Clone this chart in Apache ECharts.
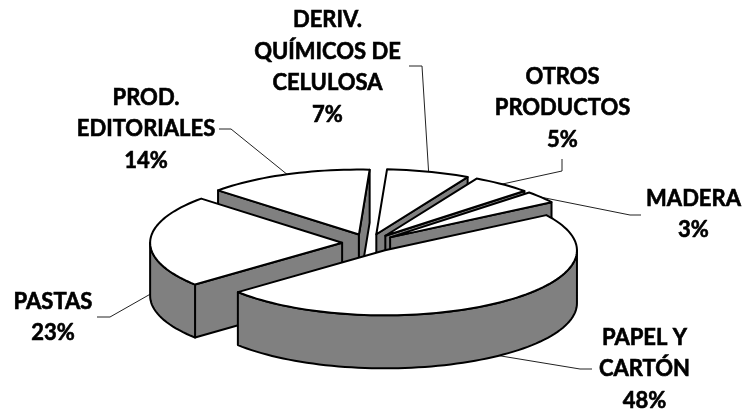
<!DOCTYPE html>
<html><head><meta charset="utf-8">
<style>html,body{margin:0;padding:0;background:#fff}#c{width:747px;height:414px}</style>
<script src="https://cdn.jsdelivr.net/npm/echarts@6/dist/echarts.min.js"></script>
</head><body><div id="c"></div>
<script>
var categories = ['PAPEL Y\nCARTÓN', 'PASTAS', 'PROD.\nEDITORIALES', 'DERIV.\nQUÍMICOS DE\nCELULOSA', 'OTROS\nPRODUCTOS', 'MADERA'];
var values = [48, 23, 14, 7, 5, 3];
var startAngle = 57.2;

// pie projection (separate from the data)
var pie = {cx: 369, cy: 243, rx: 192, ry: 65, depth: 53, explode: 0.14};
// label centres and leader elbows
var labelBoxes = [
  {x: 644.5, y: 369, elbow: [[580, 369], [592, 369]]},
  {x: 53, y: 317.5, elbow: [[110, 317], [97, 317]]},
  {x: 146, y: 129, elbow: [[231, 129], [219, 129]]},
  {x: 327.5, y: 67.5, elbow: [[422, 66], [409, 66]]},
  {x: 562.5, y: 108, elbow: [[562, 171], [562, 159]]},
  {x: 693.5, y: 214.5, elbow: [[630, 215], [641, 215]]}
];
var FONT = 'bold 22px Lato, sans-serif';

function rad(d) { return d * Math.PI / 180; }
var total = values.reduce(function (a, b) { return a + b; }, 0);
var acc = startAngle;
var slices = values.map(function (v, i) {
  var s = acc, e = acc + v / total * 360; acc = e;
  var m = (s + e) / 2;
  return {i: i, s: s, e: e, m: m,
    ax: pie.cx + pie.rx * pie.explode * Math.sin(rad(m)),
    ay: pie.cy - pie.ry * pie.explode * Math.cos(rad(m))};
});
function rim(sl, t, down) {
  return [sl.ax + pie.rx * Math.sin(rad(t)), sl.ay - pie.ry * Math.cos(rad(t)) + (down ? pie.depth : 0)];
}
function arc(sl, a, b, down) {
  var pts = [], n = Math.max(2, Math.ceil(Math.abs(b - a) / 2));
  for (var k = 0; k <= n; k++) pts.push(rim(sl, a + (b - a) * k / n, down));
  return pts;
}
// paint from back to front
var order = slices.slice().sort(function (p, q) { return Math.cos(rad(q.m)) - Math.cos(rad(p.m)); });

var strokeSide = {fill: '#808080', stroke: '#000', lineWidth: 2, lineJoin: 'round'};
var strokeTop = {fill: '#fff', stroke: '#000', lineWidth: 2, lineJoin: 'round'};

function renderSlice(params, api) {
  var sl = order[params.dataIndex], kids = [];
  function wall(t) {
    var c = rim(sl, t, false), d = rim(sl, t, true);
    kids.push({type: 'polygon', shape: {points: [[sl.ax, sl.ay], c, d, [sl.ax, sl.ay + pie.depth]]}, style: strokeSide});
  }
  if (Math.cos(rad(sl.s - 90)) < 0) wall(sl.s);
  if (Math.cos(rad(sl.e + 90)) < 0) wall(sl.e);
  var a = Math.max(sl.s, 90), b = Math.min(sl.e, 270);
  if (b > a) {
    kids.push({type: 'polygon', shape: {points: arc(sl, a, b, false).concat(arc(sl, b, a, true))}, style: strokeSide});
  }
  kids.push({type: 'polygon', shape: {points: [[sl.ax, sl.ay]].concat(arc(sl, sl.s, sl.e, false))}, style: strokeTop});
  return {type: 'group', children: kids};
}
function renderLabel(params, api) {
  var sl = slices[params.dataIndex], box = labelBoxes[params.dataIndex];
  var front = Math.cos(rad(sl.m)) < 0 || Math.abs(sl.m - 271) < 2;
  var anchor = rim(sl, sl.m, front);
  return {type: 'group', children: [
    {type: 'polyline', shape: {points: [anchor].concat(box.elbow)}, style: {fill: null, stroke: '#222', lineWidth: 1}},
    {type: 'text', style: {x: box.x, y: box.y, text: categories[params.dataIndex] + '\n' + api.value(0) + '%',
      align: 'center', verticalAlign: 'middle', font: FONT, lineHeight: 31.5, fill: '#000', stroke: '#000', lineWidth: 0.6}}
  ]};
}
var chart = echarts.init(document.getElementById('c'), null, {renderer: 'canvas'});
chart.setOption({
  animation: false,
  backgroundColor: '#fff',
  series: [
    {type: 'custom', coordinateSystem: 'none', silent: true, z: 2, renderItem: renderLabel,
     data: values.map(function (v) { return [v]; })},
    {type: 'custom', coordinateSystem: 'none', silent: true, z: 3, renderItem: renderSlice,
     data: order.map(function (s) { return [values[s.i]]; })}
  ]
});
</script></body></html>
